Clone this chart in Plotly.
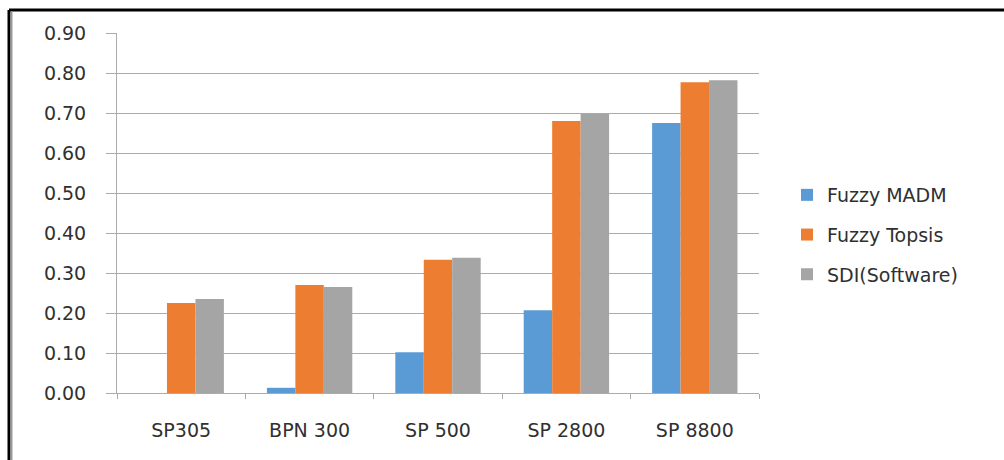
import plotly.graph_objects as go

# Products compared and the score each method assigned them
categories = ["SP305", "BPN 300", "SP 500", "SP 2800", "SP 8800"]
fuzzy_madm = [0.0, 0.013, 0.102, 0.207, 0.675]
fuzzy_topsis = [0.225, 0.270, 0.333, 0.680, 0.777]
sdi_software = [0.235, 0.265, 0.338, 0.698, 0.782]

series_names = ["Fuzzy MADM", "Fuzzy Topsis", "SDI(Software)"]
series_values = [fuzzy_madm, fuzzy_topsis, sdi_software]
series_colors = ["#5B9BD5", "#ED7D31", "#A5A5A5"]

FONT = "DejaVu Sans"
TEXT = "#303030"
AXIS = "#ababab"

fig = go.Figure()
for name, vals, col in zip(series_names, series_values, series_colors):
    fig.add_trace(go.Bar(
        x=categories, y=vals, name=name, legendgroup=name,
        marker=dict(color=col, line=dict(width=0)),
    ))

W, H = 1004, 460
L, R, T, B = 117, 245, 33, 67
pw, ph = W - L - R, H - T - B


def px_x(p):
    return (p - L) / pw


def px_y(p):
    return (H - B - p) / ph


# frame lines along the top and left edges
fig.add_shape(type="line", xref="paper", yref="paper",
              x0=px_x(9), x1=px_x(1010), y0=px_y(10), y1=px_y(10),
              line=dict(color="#000000", width=3))
fig.add_shape(type="line", xref="paper", yref="paper",
              x0=px_x(9), x1=px_x(9), y0=px_y(10), y1=px_y(470),
              line=dict(color="#000000", width=3))
fig.add_shape(type="line", xref="paper", yref="paper",
              x0=px_x(11.5), x1=px_x(11.5), y0=px_y(11.5), y1=px_y(470),
              line=dict(color="#9a9a9a", width=2))

fig.update_layout(
    width=W, height=H,
    margin=dict(l=L, r=R, t=T, b=B, autoexpand=False),
    paper_bgcolor="white", plot_bgcolor="white",
    barmode="group", bargap=0.335, bargroupgap=0,
    font=dict(family=FONT, size=19, color=TEXT),
    showlegend=True,
    legend=dict(
        x=px_x(787), y=px_y(235), xanchor="left", yanchor="middle",
        font=dict(family=FONT, size=19, color=TEXT),
        tracegroupgap=12, itemwidth=30, bgcolor="rgba(0,0,0,0)",
    ),
    xaxis=dict(
        type="category", showgrid=False, showline=True, linecolor=AXIS, linewidth=1,
        ticks="outside", tickson="boundaries", ticklen=5, tickcolor=AXIS,
        tickfont=dict(family=FONT, size=19, color=TEXT), ticklabelstandoff=20,
        zeroline=False,
    ),
    yaxis=dict(
        range=[0, 0.9], dtick=0.1, tick0=0, tickformat=".2f",
        showgrid=True, gridcolor=AXIS, gridwidth=1,
        showline=True, linecolor=AXIS, linewidth=1,
        ticks="outside", ticklen=10, tickcolor=AXIS,
        tickfont=dict(family=FONT, size=19, color=TEXT), ticklabelstandoff=16,
        zeroline=False,
    ),
)

fig.write_html("out.html")
